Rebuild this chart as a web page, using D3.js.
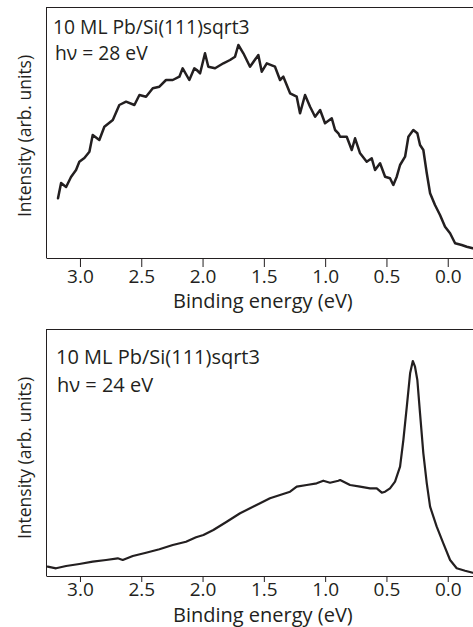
<!DOCTYPE html>
<html><head><meta charset="utf-8">
<script src="https://cdn.jsdelivr.net/npm/d3@7"></script>
<style>
html,body{margin:0;padding:0;background:#fff;}
svg{display:block;}
text{font-family:"Open Sans","Noto Sans",sans-serif;fill:#231f20;}
</style></head><body>
<svg id="chart" width="473" height="627"></svg>
<script>
// ---- data (binding energy in eV, intensity in arb. units) ----
const xTicks = [3.0, 2.5, 2.0, 1.5, 1.0, 0.5, 0.0];
const xTickLabels = ["3.0","2.5","2.0","1.5","1.0","0.5","0.0"];
const xTitle = "Binding energy (eV)";
const yTitle = "Intensity (arb. units)";
const sampleLabel = "10 ML Pb/Si(111)sqrt3";
const photonTop = "h\u03bd = 28 eV";
const photonBottom = "h\u03bd = 24 eV";

const energyTop = [3.179,3.154,3.113,3.073,3.032,3.005,2.964,2.923,2.896,2.842,2.801,2.732,2.679,2.624,2.556,2.515,2.461,2.406,2.352,2.298,2.243,2.189,2.162,2.108,2.067,2.047,2.020,1.980,1.953,1.898,1.830,1.776,1.735,1.708,1.667,1.613,1.545,1.517,1.476,1.409,1.368,1.341,1.286,1.232,1.205,1.164,1.123,1.082,1.041,1.001,0.946,0.919,0.892,0.878,0.824,0.783,0.756,0.715,0.661,0.620,0.593,0.552,0.511,0.471,0.444,0.416,0.389,0.348,0.321,0.281,0.248,0.226,0.199,0.171,0.144,0.104,0.063,0.022,-0.019,-0.060,-0.114,-0.155,-0.204];
const intensityTop = [59.7,75,71,81,88,96.3,100,106.3,123,118,131.3,138,153,156.3,153,163,161.3,169.7,171.3,178,178,181.3,189.7,178,189.7,188,184.7,204.7,191.3,189.7,194.7,198,201.3,213,204.7,191.3,203,186.3,194.7,191.3,178,181.3,164.7,161.3,144.7,163,151.3,141.3,148,134.7,139.7,128,124.7,121.3,121.3,108,119.7,104.7,96.3,99.7,88,94.7,81.3,79.7,73,81.3,93,101.3,121.3,128,124.7,113,108,84.7,64.7,53,43,31.3,24.7,14.7,13,11.3,9.7];

const energyBottom = [3.263,3.195,3.113,3.005,2.896,2.787,2.692,2.651,2.569,2.461,2.352,2.243,2.135,2.053,1.993,1.912,1.803,1.694,1.613,1.531,1.450,1.368,1.286,1.232,1.150,1.069,1.015,0.960,0.892,0.878,0.797,0.715,0.634,0.579,0.538,0.511,0.471,0.430,0.389,0.362,0.334,0.307,0.285,0.267,0.248,0.226,0.199,0.171,0.144,0.090,0.036,-0.019,-0.073,-0.141,-0.204];
const intensityBottom = [9.3,7.7,10,12,14.3,16,17.7,16,20,23.3,26.7,31,34.3,38.7,41,46,54.3,62.7,67.7,72.7,77.7,81,84.3,89.3,91,92.7,95.3,93.3,95.3,96,91,89.3,87.7,87.7,83.3,84.3,87.7,94.3,109.3,136,169.3,202.7,215,209.3,196,162.7,122.7,92.7,69.3,49.3,32.7,16,7.7,5.3,3.3];

const energyDomain = [3.277, -0.206];
const intensityDomainTop = [0, 251];
const intensityDomainBottom = [0, 247];

// ---- drawing ----
const svg = d3.select("#chart");
const ink = "#231f20";

function panel(cfg){
  const x = d3.scaleLinear().domain(energyDomain).range([cfg.left, cfg.right]);
  const y = d3.scaleLinear().domain(cfg.yDomain).range([cfg.bottom, cfg.top]);
  const g = svg.append("g");

  // frame: top and left lines
  g.append("line").attr("x1",cfg.left).attr("x2",cfg.right).attr("y1",cfg.top+0.5).attr("y2",cfg.top+0.5)
    .attr("stroke",ink).attr("stroke-width",1);
  g.append("line").attr("x1",cfg.left+0.5).attr("x2",cfg.left+0.5).attr("y1",cfg.top).attr("y2",cfg.bottom)
    .attr("stroke",ink).attr("stroke-width",1);

  // x axis
  const ax = g.append("g").attr("transform",`translate(0,${cfg.bottom})`)
    .call(d3.axisBottom(x).tickValues(xTicks).tickFormat((d,i)=>xTickLabels[i]).tickSize(cfg.tickLen).tickSizeOuter(0).tickPadding(cfg.tickPad));
  ax.select(".domain").attr("stroke",ink).attr("stroke-width",1.2);
  ax.selectAll(".tick line").attr("stroke",ink).attr("stroke-width",1);
  ax.selectAll(".tick text").attr("fill",ink).style("font-family","'Open Sans','Noto Sans',sans-serif").style("font-size","19px");

  g.append("text").attr("x",(x(3.0)+x(0.0))/2 - 1).attr("y",cfg.bottom+cfg.titleGap)
    .attr("text-anchor","middle").style("font-size","20px").text(xTitle);

  g.append("text").attr("transform",`translate(${cfg.yLabelX},${cfg.yLabelY}) rotate(-90)`)
    .attr("text-anchor","middle").style("font-size","17.5px").text(yTitle);

  const ann = g.append("text").style("font-size",cfg.annSize);
  ann.append("tspan").attr("x",cfg.annX).attr("y",cfg.annY1).text(sampleLabel);
  ann.append("tspan").attr("x",cfg.annX2).attr("y",cfg.annY2).text(cfg.photon);

  const data = cfg.energy.map((e,i)=>[e,cfg.intensity[i]]);
  g.append("path").datum(data)
    .attr("fill","none").attr("stroke",ink).attr("stroke-width",cfg.lw)
    .attr("stroke-linejoin","round").attr("stroke-linecap","round")
    .attr("d",d3.line().x(d=>x(d[0])).y(d=>y(d[1])));
}

panel({left:46,right:473,top:7,bottom:258,yDomain:intensityDomainTop,
  tickLen:9,tickPad:3,titleGap:50,yLabelX:31,yLabelY:136,
  annSize:"19.3px",annX:53,annX2:55,annY1:34,annY2:60,photon:photonTop,
  energy:energyTop,intensity:intensityTop,lw:2.5});

panel({left:46,right:473,top:329,bottom:576,yDomain:intensityDomainBottom,
  tickLen:6,tickPad:1,titleGap:46,yLabelX:31,yLabelY:458,
  annSize:"20px",annX:56,annX2:57,annY1:364,annY2:392,photon:photonBottom,
  energy:energyBottom,intensity:intensityBottom,lw:2.2});
</script>
</body></html>
